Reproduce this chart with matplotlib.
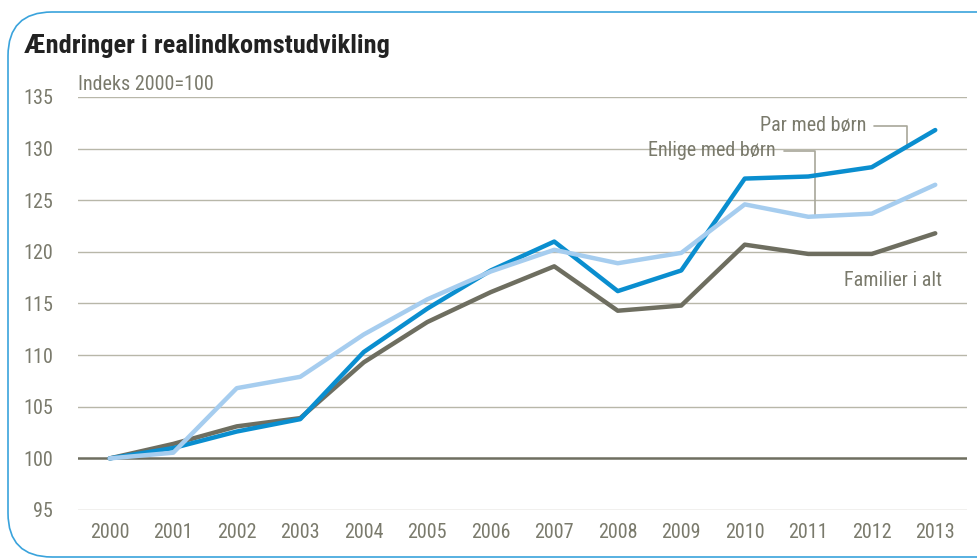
import matplotlib

matplotlib.use("Agg")
import matplotlib.pyplot as plt
from matplotlib.patches import FancyBboxPatch
from matplotlib import font_manager

years = list(range(2000, 2014))
par_med_boern = [100, 101.0, 102.6, 103.8, 110.3, 114.5, 118.2, 121.0, 116.2, 118.2, 127.1, 127.3, 128.2, 131.8]
enlige_med_boern = [100, 100.55, 106.8, 107.9, 112.0, 115.4, 118.1, 120.2, 118.9, 119.9, 124.6, 123.4, 123.7, 126.5]
familier_i_alt = [100, 101.4, 103.1, 103.9, 109.3, 113.2, 116.1, 118.6, 114.3, 114.8, 120.7, 119.8, 119.8, 121.8]
y_ticks = [95, 100, 105, 110, 115, 120, 125, 130, 135]

names = {f.name for f in font_manager.fontManager.ttflist}
FONT = "Liberation Sans Narrow" if "Liberation Sans Narrow" in names else "Roboto Condensed" if "Roboto Condensed" in names else "Liberation Sans"
plt.rcParams["font.family"] = [FONT, "DejaVu Sans"]

DARK_BLUE = "#0A8ECF"
LIGHT_BLUE = "#A6CDEF"
GRAY = "#6E6E60"
GRID = "#B8B7A9"
TEXT = "#7A7A6C"

W, H = 977, 558
fig = plt.figure(figsize=(W / 100, H / 100), dpi=100)

# rounded frame
frame = FancyBboxPatch((8 / W, 1 / H), 1.2, (H - 12 - 1) / H,
                       boxstyle="round,pad=0,rounding_size=0.045",
                       transform=fig.transFigure, fill=False,
                       edgecolor="#3AA3DC", linewidth=1.2, mutation_aspect=W / H)
fig.patches.append(frame)

fig.text(24 / W, 1 - 46 / H, "Ændringer i realindkomstudvikling", fontsize=19,
         fontweight="bold", color="#222222", va="center")

ax = fig.add_axes([78 / W, 1 - 510 / H, (967 - 78) / W, (510 - 97) / H])
ax.set_xlim(-0.5, 13.5)
ax.set_ylim(95, 135)
x = list(range(len(years)))

for v in y_ticks:
    if v == 100:
        ax.axhline(v, color=GRAY, lw=1.8, zorder=1)
    else:
        ax.axhline(v, color=GRID, lw=1.0, zorder=1)

ax.plot(x, familier_i_alt, color=GRAY, lw=3.2, solid_capstyle="round", zorder=3)
ax.plot(x, par_med_boern, color=DARK_BLUE, lw=3.2, solid_capstyle="round", zorder=4)
ax.plot(x, enlige_med_boern, color=LIGHT_BLUE, lw=3.2, solid_capstyle="round", zorder=5)

ax.set_yticks(y_ticks)
ax.set_xticks(x)
ax.set_xticklabels([str(y) for y in years])
ax.tick_params(length=0, labelsize=14.5, colors=TEXT, pad=9)
ax.tick_params(axis="y", pad=18)
for s in ax.spines.values():
    s.set_visible(False)
ax.patch.set_alpha(0)

ax.text(0, 1.008, "Indeks 2000=100", transform=ax.transAxes, fontsize=14.5,
        color=TEXT, va="bottom", ha="left")

# labels with leader lines
leader = dict(arrowstyle="-", color="#A8A79A", lw=1.2,
              connectionstyle="angle,angleA=0,angleB=90,rad=0",
              shrinkA=4, shrinkB=0)
ax.annotate("Par med børn", xy=(12.56, 130.1), xytext=(11.91, 132.2),
            fontsize=14.5, color=TEXT, ha="right", va="center", arrowprops=leader)
ax.annotate("Enlige med børn", xy=(11.11, 123.4), xytext=(10.48, 129.8),
            fontsize=14.5, color=TEXT, ha="right", va="center", arrowprops=leader)
ax.text(12.34, 117.2, "Familier i alt", fontsize=14.5, color=TEXT, ha="center", va="center")

fig.savefig("out.png", dpi=100)
